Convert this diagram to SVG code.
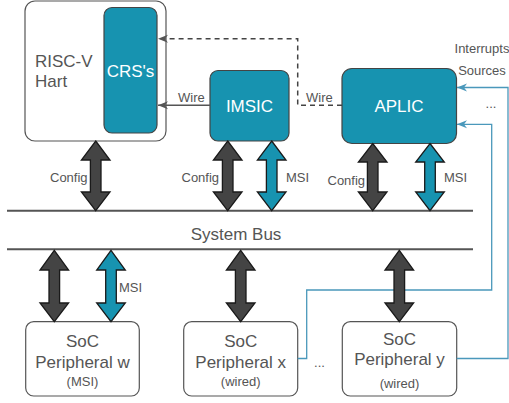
<svg xmlns="http://www.w3.org/2000/svg" width="509" height="403" viewBox="0 0 509 403">
<defs>
<style>
.box{fill:#ffffff;stroke:#555555;stroke-width:1.2}
.teal{fill:#1793b0;stroke:#444444;stroke-width:1.2}
.t{font-family:"Liberation Sans",Arial,sans-serif;fill:#555555}
.w{font-family:"Liberation Sans",Arial,sans-serif;fill:#ffffff}
.c{text-anchor:middle}
.big{font-size:17px}
.sm{font-size:13px}
.bus{stroke:#555555;stroke-width:2;fill:none}
.darr{fill:#444444;stroke:#1a1a1a;stroke-width:1.3;stroke-linejoin:miter}
.barr{fill:#1793b0;stroke:#1a1a1a;stroke-width:1.3;stroke-linejoin:miter}
.blue{stroke:#4a98bb;stroke-width:1.3;fill:none}
</style>
<marker id="ag" viewBox="0 0 10 10" refX="10" refY="5" markerWidth="10" markerHeight="10" markerUnits="userSpaceOnUse" orient="auto">
<path d="M0,1 L10,5 L0,9 L3,5 z" fill="#555555"/>
</marker>
<marker id="ab" viewBox="0 0 10 10" refX="10" refY="5" markerWidth="10" markerHeight="10" markerUnits="userSpaceOnUse" orient="auto">
<path d="M0,1 L10,5 L0,9 L3,5 z" fill="#4a98bb"/>
</marker>
</defs>
<rect width="509" height="403" fill="#ffffff"/>

<g id="hart">
<rect class="box" x="25" y="1" width="141" height="140" rx="10"/>
<text class="t big" x="35" y="66.5">RISC-V</text>
<text class="t big" x="35" y="87">Hart</text>
</g>
<g id="crs">
<rect class="teal" x="104" y="7.5" width="53" height="125.5" rx="8"/>
<text class="w big c" x="130.5" y="77">CRS's</text>
</g>
<g id="imsic">
<rect class="teal" x="210" y="70.5" width="79" height="70.5" rx="8"/>
<text class="w big c" x="249.5" y="112">IMSIC</text>
</g>
<g id="aplic">
<rect class="teal" x="342" y="68.5" width="114.5" height="75" rx="10"/>
<text class="w big c" x="399" y="112">APLIC</text>
</g>
<g id="sysbus">
<line class="bus" x1="7" y1="210.7" x2="473" y2="210.7"/>
<line class="bus" x1="7" y1="249.3" x2="473" y2="249.3"/>
<text class="t big c" x="236" y="239.5">System Bus</text>
</g>
<g id="perw">
<rect class="box" x="25.7" y="321.7" width="113.6" height="74.3" rx="8"/>
<text class="t big c" x="82.5" y="347">SoC</text>
<text class="t big c" x="82.5" y="367.5">Peripheral w</text>
<text class="t sm c" x="82.5" y="385.5">(MSI)</text>
</g>
<g id="perx">
<rect class="box" x="183.7" y="321.7" width="114" height="74.3" rx="8"/>
<text class="t big c" x="240.7" y="347">SoC</text>
<text class="t big c" x="240.7" y="367.5">Peripheral x</text>
<text class="t sm c" x="240.7" y="385.5">(wired)</text>
</g>
<g id="pery">
<rect class="box" x="342.3" y="321.7" width="114.4" height="74.3" rx="8"/>
<text class="t big c" x="399.5" y="344.5">SoC</text>
<text class="t big c" x="399.5" y="365">Peripheral y</text>
<text class="t sm c" x="399.5" y="387.5">(wired)</text>
</g>
<g id="labels">
<text class="t sm c" x="482" y="52.5">Interrupts</text>
<text class="t sm c" x="482" y="74.5">Sources</text>
<text class="t sm c" x="491" y="108">...</text>
<text class="t sm c" x="319.5" y="367">...</text>
</g>

<g id="connectors">
<path d="M342,105.3 L297.7,105.3 L297.7,38.7 L158,38.7" fill="none" stroke="#444444" stroke-width="1.5" stroke-dasharray="5,4" marker-end="url(#ag)"/>
<line x1="210" y1="105.3" x2="158" y2="105.3" stroke="#555555" stroke-width="1.5" marker-end="url(#ag)"/>
<text class="t sm" x="178" y="102">Wire</text>
<text class="t sm" x="306" y="102">Wire</text>

<path class="blue" d="M456.7,358.5 L508,358.5 L508,87.5 L457,87.5" marker-end="url(#ab)"/>
<path class="blue" d="M297.7,358.5 L306.7,358.5 L306.7,290 L491.7,290 L491.7,124.3 L457,124.3" marker-end="url(#ab)"/>

<path class="darr" d="M95.7,141 L110,160 L101,160 L101,192 L110,192 L95.7,210.7 L81.4,192 L90.4,192 L90.4,160 L81.4,160 Z"/>
<text class="t sm" x="50" y="182">Config</text>
<path class="darr" d="M227.7,141 L242,160 L233,160 L233,192 L242,192 L227.7,210.7 L213.4,192 L222.4,192 L222.4,160 L213.4,160 Z"/>
<text class="t sm" x="181.5" y="182">Config</text>
<path class="barr" d="M271.7,141 L286,160 L277,160 L277,192 L286,192 L271.7,210.7 L257.4,192 L266.4,192 L266.4,160 L257.4,160 Z"/>
<text class="t sm" x="286" y="182">MSI</text>
<path class="darr" d="M372.7,143.5 L387,162 L378,162 L378,192 L387,192 L372.7,210.7 L358.4,192 L367.4,192 L367.4,162 L358.4,162 Z"/>
<text class="t sm" x="327.5" y="185">Config</text>
<path class="barr" d="M430,143.5 L444.3,162 L435.3,162 L435.3,192 L444.3,192 L430,210.7 L415.7,192 L424.7,192 L424.7,162 L415.7,162 Z"/>
<text class="t sm" x="444" y="182">MSI</text>

<path class="darr" d="M54.3,250.3 L68.6,270 L59.6,270 L59.6,303 L68.6,303 L54.3,321.7 L40,303 L49,303 L49,270 L40,270 Z"/>
<path class="barr" d="M111,250.3 L125.3,270 L116.3,270 L116.3,303 L125.3,303 L111,321.7 L96.7,303 L105.7,303 L105.7,270 L96.7,270 Z"/>
<text class="t sm" x="119" y="292">MSI</text>
<path class="darr" d="M240.7,250.3 L255,270 L246,270 L246,303 L255,303 L240.7,321.7 L226.4,303 L235.4,303 L235.4,270 L226.4,270 Z"/>
<path class="darr" d="M399.3,250.3 L413.6,270 L404.6,270 L404.6,303 L413.6,303 L399.3,321.7 L385,303 L394,303 L394,270 L385,270 Z"/>
</g>
</svg>
